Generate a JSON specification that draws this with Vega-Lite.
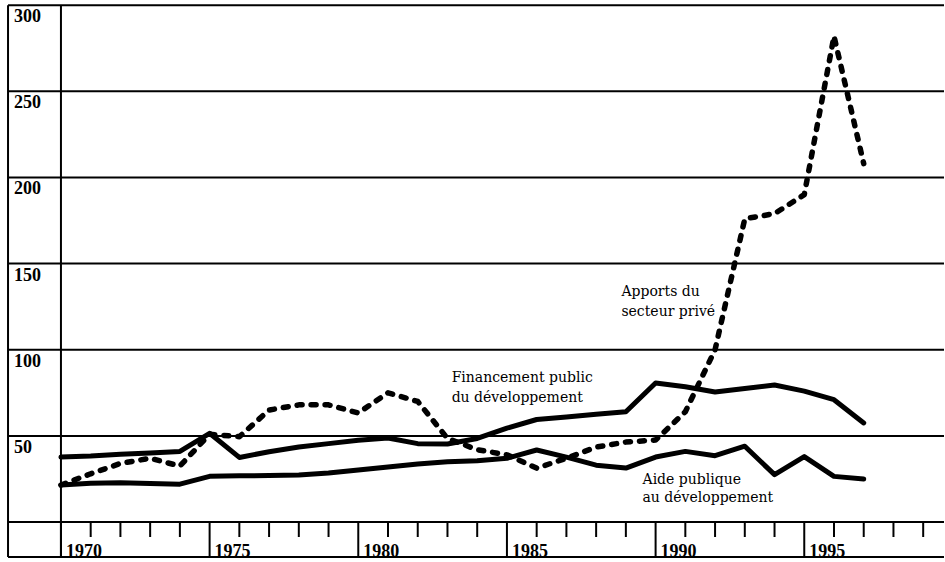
{
  "$schema": "https://vega.github.io/schema/vega-lite/v6.json",
  "width": 945,
  "height": 562,
  "autosize": {"type": "fit", "contains": "padding"},
  "padding": 0,
  "background": "white",
  "config": {"view": {"stroke": null}},
  "datasets": {
    "series": [
      {"year": 1970, "serie": "APD", "value": 21.5}, {"year": 1971, "serie": "APD", "value": 22.5}, {"year": 1972, "serie": "APD", "value": 22.8}, {"year": 1973, "serie": "APD", "value": 22.3}, {"year": 1974, "serie": "APD", "value": 22}, {"year": 1975, "serie": "APD", "value": 26.5}, {"year": 1976, "serie": "APD", "value": 26.8}, {"year": 1977, "serie": "APD", "value": 27}, {"year": 1978, "serie": "APD", "value": 27.3}, {"year": 1979, "serie": "APD", "value": 28.4}, {"year": 1980, "serie": "APD", "value": 30.2}, {"year": 1981, "serie": "APD", "value": 32}, {"year": 1982, "serie": "APD", "value": 33.7}, {"year": 1983, "serie": "APD", "value": 35}, {"year": 1984, "serie": "APD", "value": 35.6}, {"year": 1985, "serie": "APD", "value": 37}, {"year": 1986, "serie": "APD", "value": 41.8}, {"year": 1987, "serie": "APD", "value": 37.7}, {"year": 1988, "serie": "APD", "value": 33}, {"year": 1989, "serie": "APD", "value": 31.3}, {"year": 1990, "serie": "APD", "value": 37.7}, {"year": 1991, "serie": "APD", "value": 41}, {"year": 1992, "serie": "APD", "value": 38.5}, {"year": 1993, "serie": "APD", "value": 44}, {"year": 1994, "serie": "APD", "value": 27.5}, {"year": 1995, "serie": "APD", "value": 38}, {"year": 1996, "serie": "APD", "value": 26.5}, {"year": 1997, "serie": "APD", "value": 25},
      {"year": 1970, "serie": "FPD", "value": 37.7}, {"year": 1971, "serie": "FPD", "value": 38.3}, {"year": 1972, "serie": "FPD", "value": 39.3}, {"year": 1973, "serie": "FPD", "value": 40}, {"year": 1974, "serie": "FPD", "value": 41}, {"year": 1975, "serie": "FPD", "value": 51.5}, {"year": 1976, "serie": "FPD", "value": 37.5}, {"year": 1977, "serie": "FPD", "value": 40.8}, {"year": 1978, "serie": "FPD", "value": 43.5}, {"year": 1979, "serie": "FPD", "value": 45.5}, {"year": 1980, "serie": "FPD", "value": 47.5}, {"year": 1981, "serie": "FPD", "value": 48.8}, {"year": 1982, "serie": "FPD", "value": 45.5}, {"year": 1983, "serie": "FPD", "value": 45.3}, {"year": 1984, "serie": "FPD", "value": 48.5}, {"year": 1985, "serie": "FPD", "value": 54.5}, {"year": 1986, "serie": "FPD", "value": 59.5}, {"year": 1987, "serie": "FPD", "value": 61}, {"year": 1988, "serie": "FPD", "value": 62.5}, {"year": 1989, "serie": "FPD", "value": 64}, {"year": 1990, "serie": "FPD", "value": 80.7}, {"year": 1991, "serie": "FPD", "value": 78.5}, {"year": 1992, "serie": "FPD", "value": 75.5}, {"year": 1993, "serie": "FPD", "value": 77.5}, {"year": 1994, "serie": "FPD", "value": 79.5}, {"year": 1995, "serie": "FPD", "value": 76}, {"year": 1996, "serie": "FPD", "value": 71}, {"year": 1997, "serie": "FPD", "value": 57.5},
      {"year": 1970, "serie": "Prive", "value": 21.5}, {"year": 1971, "serie": "Prive", "value": 28}, {"year": 1972, "serie": "Prive", "value": 34}, {"year": 1973, "serie": "Prive", "value": 37}, {"year": 1974, "serie": "Prive", "value": 32.5}, {"year": 1975, "serie": "Prive", "value": 51}, {"year": 1976, "serie": "Prive", "value": 49.5}, {"year": 1977, "serie": "Prive", "value": 65}, {"year": 1978, "serie": "Prive", "value": 68}, {"year": 1979, "serie": "Prive", "value": 68}, {"year": 1980, "serie": "Prive", "value": 63.3}, {"year": 1981, "serie": "Prive", "value": 75}, {"year": 1982, "serie": "Prive", "value": 70}, {"year": 1983, "serie": "Prive", "value": 48.5}, {"year": 1984, "serie": "Prive", "value": 42}, {"year": 1985, "serie": "Prive", "value": 39}, {"year": 1986, "serie": "Prive", "value": 31.3}, {"year": 1987, "serie": "Prive", "value": 37}, {"year": 1988, "serie": "Prive", "value": 43.5}, {"year": 1989, "serie": "Prive", "value": 46.4}, {"year": 1990, "serie": "Prive", "value": 47.6}, {"year": 1991, "serie": "Prive", "value": 64}, {"year": 1992, "serie": "Prive", "value": 100}, {"year": 1993, "serie": "Prive", "value": 176}, {"year": 1994, "serie": "Prive", "value": 179}, {"year": 1995, "serie": "Prive", "value": 190}, {"year": 1996, "serie": "Prive", "value": 282}, {"year": 1997, "serie": "Prive", "value": 208}
    ],
    "grid": [{"v": 0}, {"v": 50}, {"v": 100}, {"v": 150}, {"v": 200}, {"v": 250}, {"v": 300}],
    "majors": [{"year": 1970}, {"year": 1975}, {"year": 1980}, {"year": 1985}, {"year": 1990}, {"year": 1995}],
    "minors": [{"year": 1971}, {"year": 1972}, {"year": 1973}, {"year": 1974}, {"year": 1976}, {"year": 1977}, {"year": 1978}, {"year": 1979}, {"year": 1981}, {"year": 1982}, {"year": 1983}, {"year": 1984}, {"year": 1986}, {"year": 1987}, {"year": 1988}, {"year": 1989}, {"year": 1991}, {"year": 1992}, {"year": 1993}, {"year": 1994}, {"year": 1996}, {"year": 1997}, {"year": 1998}, {"year": 1999}],
    "one": [{"k": 1}]
  },
  "layer": [
    {
      "data": {"name": "grid"},
      "mark": {"type": "rule", "color": "black", "strokeWidth": 2},
      "encoding": {
        "y": {"field": "v", "type": "quantitative", "scale": {"domain": [-23.2, 303.0], "nice": false, "zero": false}, "axis": null},
        "x": {"datum": 1968.22, "type": "quantitative", "scale": {"domain": [1967.95, 1999.7], "nice": false, "zero": false}, "axis": null},
        "x2": {"datum": 1999.7}
      }
    },
    {
      "data": {"name": "majors"},
      "mark": {"type": "rule", "color": "black", "strokeWidth": 2},
      "encoding": {
        "x": {"field": "year", "type": "quantitative", "scale": {"domain": [1967.95, 1999.7], "nice": false, "zero": false}, "axis": null},
        "y": {"datum": -20.35, "type": "quantitative", "scale": {"domain": [-23.2, 303.0], "nice": false, "zero": false}, "axis": null},
        "y2": {"datum": 0}
      }
    },
    {
      "data": {"name": "one"},
      "mark": {"type": "rule", "color": "black", "strokeWidth": 2},
      "encoding": {
        "x": {"datum": 1970, "type": "quantitative", "scale": {"domain": [1967.95, 1999.7], "nice": false, "zero": false}, "axis": null},
        "y": {"datum": -20.35, "type": "quantitative", "scale": {"domain": [-23.2, 303.0], "nice": false, "zero": false}, "axis": null},
        "y2": {"datum": 300}
      }
    },
    {
      "data": {"name": "one"},
      "mark": {"type": "rule", "color": "black", "strokeWidth": 2},
      "encoding": {
        "x": {"datum": 1968.22, "type": "quantitative", "scale": {"domain": [1967.95, 1999.7], "nice": false, "zero": false}, "axis": null},
        "y": {"datum": -20.35, "type": "quantitative", "scale": {"domain": [-23.2, 303.0], "nice": false, "zero": false}, "axis": null},
        "y2": {"datum": 300}
      }
    },
    {
      "data": {"name": "one"},
      "mark": {"type": "rule", "color": "black", "strokeWidth": 2},
      "encoding": {
        "y": {"datum": -20.35, "type": "quantitative", "scale": {"domain": [-23.2, 303.0], "nice": false, "zero": false}, "axis": null},
        "x": {"datum": 1968.22, "type": "quantitative", "scale": {"domain": [1967.95, 1999.7], "nice": false, "zero": false}, "axis": null},
        "x2": {"datum": 1999.7}
      }
    },
    {
      "data": {"name": "minors"},
      "mark": {"type": "rule", "color": "black", "strokeWidth": 2},
      "encoding": {
        "x": {"field": "year", "type": "quantitative", "scale": {"domain": [1967.95, 1999.7], "nice": false, "zero": false}, "axis": null},
        "y": {"datum": 0, "type": "quantitative", "scale": {"domain": [-23.2, 303.0], "nice": false, "zero": false}, "axis": null},
        "y2": {"datum": -8.7}
      }
    },
    {
      "data": {"name": "grid"},
      "transform": [{"filter": "datum.v > 0"}],
      "mark": {"type": "text", "align": "left", "baseline": "middle", "dx": 6, "dy": 12, "font": "Liberation Serif", "fontWeight": "bold", "fontSize": 18, "color": "black"},
      "encoding": {
        "y": {"field": "v", "type": "quantitative", "scale": {"domain": [-23.2, 303.0], "nice": false, "zero": false}, "axis": null},
        "x": {"datum": 1968.22, "type": "quantitative", "scale": {"domain": [1967.95, 1999.7], "nice": false, "zero": false}, "axis": null},
        "text": {"field": "v", "type": "quantitative", "format": "d"}
      }
    },
    {
      "data": {"name": "majors"},
      "mark": {"type": "text", "align": "left", "baseline": "middle", "dx": 5, "dy": 30, "font": "Liberation Serif", "fontWeight": "bold", "fontSize": 18, "color": "black"},
      "encoding": {
        "x": {"field": "year", "type": "quantitative", "scale": {"domain": [1967.95, 1999.7], "nice": false, "zero": false}, "axis": null},
        "y": {"datum": 0, "type": "quantitative", "scale": {"domain": [-23.2, 303.0], "nice": false, "zero": false}, "axis": null},
        "text": {"field": "year", "type": "quantitative", "format": "d"}
      }
    },
    {
      "data": {"name": "series"},
      "transform": [{"filter": "datum.serie !== 'Prive'"}],
      "mark": {"type": "line", "color": "black", "strokeWidth": 5, "strokeJoin": "round", "strokeCap": "round"},
      "encoding": {
        "x": {"field": "year", "type": "quantitative", "scale": {"domain": [1967.95, 1999.7], "nice": false, "zero": false}, "axis": null},
        "y": {"field": "value", "type": "quantitative", "scale": {"domain": [-23.2, 303.0], "nice": false, "zero": false}, "axis": null},
        "detail": {"field": "serie", "type": "nominal"}
      }
    },
    {
      "data": {"name": "series"},
      "transform": [{"filter": "datum.serie === 'Prive'"}],
      "mark": {"type": "line", "color": "black", "strokeWidth": 5.5, "strokeJoin": "round", "strokeCap": "round", "strokeDash": [5, 9]},
      "encoding": {
        "x": {"field": "year", "type": "quantitative", "scale": {"domain": [1967.95, 1999.7], "nice": false, "zero": false}, "axis": null},
        "y": {"field": "value", "type": "quantitative", "scale": {"domain": [-23.2, 303.0], "nice": false, "zero": false}, "axis": null}
      }
    },
    {
      "data": {"name": "one"},
      "mark": {"type": "text", "text": "Apports du", "align": "left", "baseline": "middle", "font": "DejaVu Serif", "fontSize": 14, "color": "black"},
      "encoding": {
        "x": {"datum": 1988.85, "type": "quantitative", "scale": {"domain": [1967.95, 1999.7], "nice": false, "zero": false}, "axis": null},
        "y": {"datum": 133.5, "type": "quantitative", "scale": {"domain": [-23.2, 303.0], "nice": false, "zero": false}, "axis": null}
      }
    },
    {
      "data": {"name": "one"},
      "mark": {"type": "text", "text": "secteur privé", "align": "left", "baseline": "middle", "font": "DejaVu Serif", "fontSize": 14, "color": "black"},
      "encoding": {
        "x": {"datum": 1988.85, "type": "quantitative", "scale": {"domain": [1967.95, 1999.7], "nice": false, "zero": false}, "axis": null},
        "y": {"datum": 121.9, "type": "quantitative", "scale": {"domain": [-23.2, 303.0], "nice": false, "zero": false}, "axis": null}
      }
    },
    {
      "data": {"name": "one"},
      "mark": {"type": "text", "text": "Financement public", "align": "left", "baseline": "middle", "font": "DejaVu Serif", "fontSize": 14, "color": "black"},
      "encoding": {
        "x": {"datum": 1983.14, "type": "quantitative", "scale": {"domain": [1967.95, 1999.7], "nice": false, "zero": false}, "axis": null},
        "y": {"datum": 83.6, "type": "quantitative", "scale": {"domain": [-23.2, 303.0], "nice": false, "zero": false}, "axis": null}
      }
    },
    {
      "data": {"name": "one"},
      "mark": {"type": "text", "text": "du développement", "align": "left", "baseline": "middle", "font": "DejaVu Serif", "fontSize": 14, "color": "black"},
      "encoding": {
        "x": {"datum": 1983.14, "type": "quantitative", "scale": {"domain": [1967.95, 1999.7], "nice": false, "zero": false}, "axis": null},
        "y": {"datum": 72.0, "type": "quantitative", "scale": {"domain": [-23.2, 303.0], "nice": false, "zero": false}, "axis": null}
      }
    },
    {
      "data": {"name": "one"},
      "mark": {"type": "text", "text": "Aide publique", "align": "left", "baseline": "middle", "font": "DejaVu Serif", "fontSize": 14, "color": "black"},
      "encoding": {
        "x": {"datum": 1989.56, "type": "quantitative", "scale": {"domain": [1967.95, 1999.7], "nice": false, "zero": false}, "axis": null},
        "y": {"datum": 24.4, "type": "quantitative", "scale": {"domain": [-23.2, 303.0], "nice": false, "zero": false}, "axis": null}
      }
    },
    {
      "data": {"name": "one"},
      "mark": {"type": "text", "text": "au développement", "align": "left", "baseline": "middle", "font": "DejaVu Serif", "fontSize": 14, "color": "black"},
      "encoding": {
        "x": {"datum": 1989.56, "type": "quantitative", "scale": {"domain": [1967.95, 1999.7], "nice": false, "zero": false}, "axis": null},
        "y": {"datum": 13.9, "type": "quantitative", "scale": {"domain": [-23.2, 303.0], "nice": false, "zero": false}, "axis": null}
      }
    }
  ]
}
